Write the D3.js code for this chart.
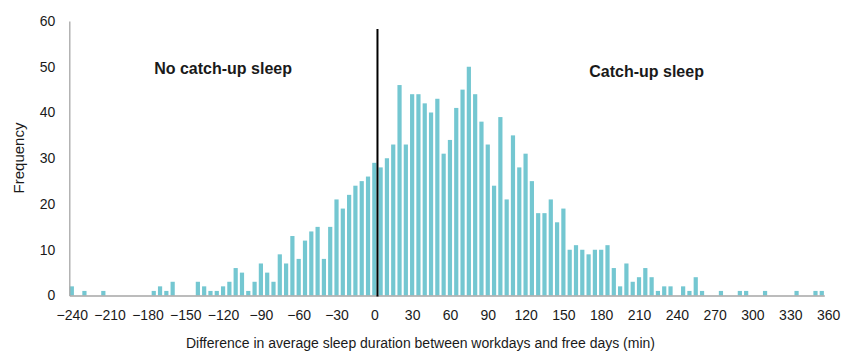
<!DOCTYPE html>
<html>
<head>
<meta charset="utf-8">
<script src="https://cdn.jsdelivr.net/npm/d3@7"></script>
<style>
  body { margin: 0; background: #fff; }
  text { font-family: "Liberation Sans", Arial, sans-serif; fill: #1a1a1a; }
</style>
</head>
<body>
<figure id="hist" style="margin:0"></figure>
<script>
// bin starts (minutes), 5 min bins from -240 to 360
const bins = d3.range(-240, 361, 5);

const counts = [
  2, 0, 1, 0, 0, 1, 0, 0, 0, 0, 0, 0, 0,     // -240 .. -180
  1, 2, 1, 3, 0, 0, 0,                       // -175 .. -145
  3, 2, 1, 1, 2, 3, 6, 5, 1, 3, 7, 5, 3,     // -140 .. -80
  9, 7, 13, 8, 12, 14, 15, 8, 15, 21, 19, 22, 24, 25, 26, // -75 .. -5
  29, 28, 30, 33, 46, 33, 44, 44, 42, 40, 43, 31, 34, 41, 45, 50, 44, 38, // 0 .. 85
  33, 24, 39, 21, 35, 28, 31, 25, 18, 18, 21, 16, // 90 .. 145
  19, 10, 11, 10, 9, 10, 10, 11, 6, 2, 7, 3, 4, 6, 4, 1, 2, 2, // 150 .. 235
  0, 2, 1, 4, 1, 0, 0, 1, 0, 0, 1, 1, 0, 0, 1, // 240 .. 310
  0, 0, 0, 0, 1, 0, 0, 1, 1, 0               // 315 .. 360
];

const xTicks = d3.range(-240, 361, 30);
const yTicks = [0, 10, 20, 30, 40, 50, 60];
const splitAt = 2.5; // line between "no catch-up" and "catch-up"

const labels = [
  { text: "No catch-up sleep", at: -120, y: 48.4 },
  { text: "Catch-up sleep", at: 216, y: 47.8 }
];

const width = 841, height = 352;

const svg = d3.select("figure#hist")
  .append("svg")
  .attr("width", width)
  .attr("height", height);

const x = d3.scaleLinear()
  .domain([-242, 357])
  .range([69.3, 824.3]);

const y = d3.scaleLinear()
  .domain([0, 60])
  .range([295.5, 21]);

const barW = (x(5) - x(0)) / 1.5;

svg.append("g")
  .selectAll("rect")
  .data(bins.map((b, i) => ({ bin: b, n: counts[i] })))
  .enter()
  .append("rect")
  .attr("x", d => x(d.bin) - barW / 2)
  .attr("y", d => y(d.n))
  .attr("width", barW)
  .attr("height", d => y(0) - y(d.n))
  .attr("fill", "#74c7d1");

// axes
svg.append("g")
  .attr("transform", "translate(0," + y(0) + ")")
  .call(d3.axisBottom(x)
    .tickValues(xTicks)
    .tickSizeInner(0)
    .tickSizeOuter(0)
    .tickPadding(14.5));

svg.append("g")
  .attr("transform", "translate(" + x.range()[0] + ",0)")
  .call(d3.axisLeft(y)
    .tickValues(yTicks)
    .tickSizeInner(0)
    .tickSizeOuter(0)
    .tickPadding(14));

svg.selectAll(".domain").attr("stroke", "#a6a6a6").attr("stroke-width", 1.3);
svg.selectAll(".tick text")
  .attr("font-size", 14)
  .attr("font-family", "Liberation Sans, Arial, sans-serif")
  .attr("fill", "#1a1a1a");

// divider line
svg.append("line")
  .attr("x1", x(splitAt)).attr("x2", x(splitAt))
  .attr("y1", 29).attr("y2", y(0) + 1)
  .attr("stroke", "#000")
  .attr("stroke-width", 2);

svg.selectAll(".note")
  .data(labels)
  .enter()
  .append("text")
  .attr("class", "note")
  .attr("x", d => x(d.at))
  .attr("y", d => y(d.y))
  .attr("text-anchor", "middle")
  .attr("font-size", 16)
  .attr("font-weight", "bold")
  .text(d => d.text);

// axis titles
svg.append("text")
  .attr("x", 420.5)
  .attr("y", 348)
  .attr("text-anchor", "middle")
  .attr("font-size", 14)
  .text("Difference in average sleep duration between workdays and free days (min)");

svg.append("text")
  .attr("transform", "translate(24,158) rotate(-90)")
  .attr("text-anchor", "middle")
  .attr("font-size", 15)
  .text("Frequency");
</script>
</body>
</html>
